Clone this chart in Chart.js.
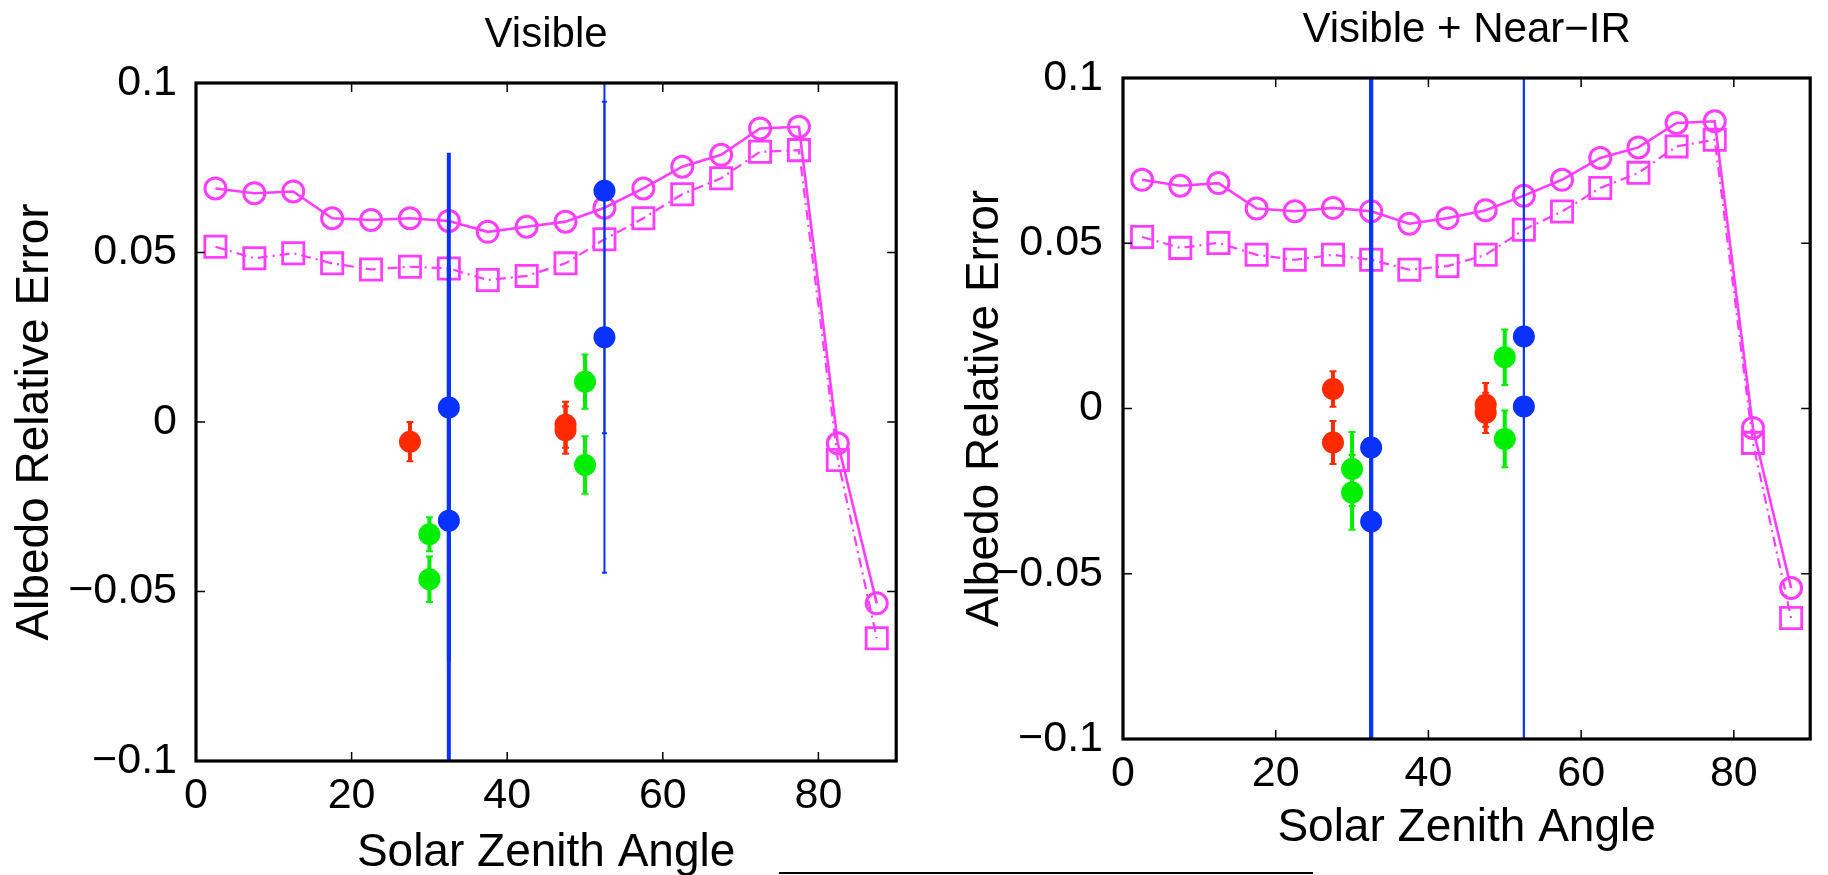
<!DOCTYPE html>
<html><head><meta charset="utf-8">
<script src="https://cdn.jsdelivr.net/npm/chart.js@4.4.0/dist/chart.umd.min.js"></script>
<style>
html,body{margin:0;padding:0;background:#fff;}
#wrap{position:relative;width:1828px;height:875px;overflow:hidden;background:#fff;}
canvas{position:absolute;top:0;}
#cL{left:0;} #cR{left:914px;}
#rule{position:absolute;left:779px;top:872px;width:534px;height:2px;background:#000;}
</style></head><body>
<div id="wrap"><canvas id="cL" width="914" height="875"></canvas><canvas id="cR" width="914" height="875"></canvas><div id="rule"></div></div>
<script>
// ---- data ----
const sza = [2.5,7.5,12.5,17.5,22.5,27.5,32.5,37.5,42.5,47.5,52.5,57.5,62.5,67.5,72.5,77.5,82.5,87.5];
const visCircle = [0.0689,0.0675,0.0680,0.0601,0.0596,0.0601,0.0593,0.0561,0.0576,0.0591,0.0632,0.0689,0.0753,0.0788,0.0866,0.0871,-0.0063,-0.0535];
const visSquare = [0.0517,0.0483,0.0498,0.0468,0.0450,0.0458,0.0453,0.0419,0.0431,0.0468,0.0539,0.0601,0.0672,0.0719,0.0797,0.0802,-0.0112,-0.0638];
const nirCircle = [0.0692,0.0674,0.0682,0.0605,0.0597,0.0607,0.0597,0.0559,0.0576,0.0600,0.0644,0.0692,0.0758,0.0790,0.0864,0.0869,-0.0059,-0.0543];
const nirSquare = [0.0519,0.0486,0.0501,0.0465,0.0450,0.0465,0.0450,0.0420,0.0431,0.0465,0.0541,0.0596,0.0667,0.0713,0.0793,0.0813,-0.0104,-0.0634];

const visRedX = [27.5,47.5,47.5];
const visRedY = [-0.0058,-0.0008,-0.0024];
const visRedErr = [0.0058,0.0068,0.0070];
const visGreenX = [30,30,50,50];
const visGreenY = [-0.0331,-0.0464,0.0119,-0.0127];
const visGreenErr = [0.0050,0.0067,0.0080,0.0085];
const visBlueX = [32.5,32.5,52.5,52.5];
const visBlueY = [0.0043,-0.0291,0.0682,0.0250];
const visBlueErr = [0.0751,0.0750,0.0715,0.0695];

const nirRedX = [27.5,27.5,47.5,47.5];
const nirRedY = [0.0059,-0.0103,0.0011,-0.0013];
const nirRedErr = [0.0054,0.0065,0.0066,0.0061];
const nirGreenX = [30,30,50,50];
const nirGreenY = [-0.0183,-0.0254,0.0155,-0.0092];
const nirGreenErr = [0.0112,0.0113,0.0084,0.0086];
const nirBlueX = [32.5,32.5,52.5,52.5];
const nirBlueY = [-0.0118,-0.0342,0.0218,0.0006];
const nirBlueErr = [0.15,0.15,0.15,0.15];

const xTicks = [0,20,40,60,80];
const yTicks = [-0.1,-0.05,0,0.05,0.1];
const titles = ['Visible','Visible + Near\u2212IR'];
const xTitle = 'Solar Zenith Angle';
const yTitle = 'Albedo Relative Error';

// ---- styling ----
const MAG = '#ff3cff', RED = '#ff2a00', GRN = '#00ee00', BLU = '#0a32ff';
const FONT = "'Liberation Sans', Arial, Helvetica, sans-serif";

const pts = (xs, ys) => xs.map((v, i) => ({x: v, y: ys[i]}));

const framePlugin = {
  id: 'frame',
  afterDatasetsDraw(chart) {
    const {ctx, chartArea: a} = chart;
    const x = chart.scales.x, y = chart.scales.y;
    ctx.save();
    ctx.beginPath(); ctx.rect(a.left, a.top, a.right - a.left, a.bottom - a.top); ctx.clip();
    chart.data.datasets.forEach(ds => {
      if (!ds.errors) return;
      ds.data.forEach((p, j) => {
        const px = x.getPixelForValue(p.x);
        const lo = y.getPixelForValue(p.y - ds.errors[j]);
        const hi = y.getPixelForValue(p.y + ds.errors[j]);
        const w = ds.errWidth[j];
        ctx.strokeStyle = ds.backgroundColor;
        ctx.lineWidth = w;
        ctx.beginPath(); ctx.moveTo(px, lo); ctx.lineTo(px, hi); ctx.stroke();
        if (w < 4 || ds.capAll) {
          const cw = w / 2 + 1.5;
          ctx.lineWidth = 2;
          ctx.beginPath();
          ctx.moveTo(px - cw, lo); ctx.lineTo(px + cw, lo);
          ctx.moveTo(px - cw, hi); ctx.lineTo(px + cw, hi);
          ctx.stroke();
        }
      });
    });
    ctx.restore();
    ctx.save();
    ctx.strokeStyle = '#000';
    ctx.lineWidth = 1.5;
    ctx.beginPath();
    x.ticks.forEach(t => {
      if (t.value <= x.min || t.value >= x.max) return;
      const px = x.getPixelForValue(t.value);
      ctx.moveTo(px, a.bottom); ctx.lineTo(px, a.bottom - 9);
      ctx.moveTo(px, a.top); ctx.lineTo(px, a.top + 9);
    });
    y.ticks.forEach(t => {
      if (t.value <= y.min || t.value >= y.max) return;
      const py = y.getPixelForValue(t.value);
      ctx.moveTo(a.left, py); ctx.lineTo(a.left + 9, py);
      ctx.moveTo(a.right, py); ctx.lineTo(a.right - 9, py);
    });
    ctx.stroke();
    ctx.lineWidth = 3.2;
    ctx.strokeRect(a.left, a.top, a.right - a.left, a.bottom - a.top);
    ctx.restore();
  }
};

function scatterSet(xs, ys, errs, color, widths, capAll) {
  return {
    data: pts(xs, ys), errors: errs, errWidth: widths, capAll: capAll,
    backgroundColor: color, borderColor: color, borderWidth: 0,
    pointRadius: 11, pointHoverRadius: 11, showLine: false
  };
}

function makeChart(id, p) {
  const datasets = [
    scatterSet(p.blueX, p.blueY, p.blueErr, BLU, [4, 4, 2, 2], false),
    scatterSet(p.greenX, p.greenY, p.greenErr, GRN, [4, 4, 4, 4], true),
    scatterSet(p.redX, p.redY, p.redErr, RED, [4, 4, 4, 4], true),
    {
      data: pts(sza, p.circle), showLine: true, borderColor: MAG, borderWidth: 2.6,
      pointStyle: 'circle', pointRadius: 10.5, pointBorderWidth: 3,
      pointBorderColor: MAG, pointBackgroundColor: 'rgba(0,0,0,0)', backgroundColor: 'rgba(0,0,0,0)'
    },
    {
      data: pts(sza, p.square), showLine: true, borderColor: MAG, borderWidth: 2.2,
      borderDash: [10, 5, 2, 5],
      pointStyle: 'rect', pointRadius: 15, pointBorderWidth: 2.8,
      pointBorderColor: MAG, pointBackgroundColor: 'rgba(0,0,0,0)', backgroundColor: 'rgba(0,0,0,0)'
    }
  ];
  return new Chart(document.getElementById(id), {
    type: 'scatter',
    data: {datasets},
    plugins: [framePlugin],
    options: {
      responsive: false, animation: false, devicePixelRatio: 1,
      layout: {padding: {left: 0, top: 0, right: p.padRight, bottom: 0}},
      plugins: {
        legend: {display: false}, tooltip: {enabled: false},
        title: {display: true, fullSize: false, text: p.title, color: '#000',
          font: {family: FONT, size: 42, weight: 'normal', lineHeight: 1.2},
          padding: {top: p.titleTop, bottom: p.titleBottom}}
      },
      scales: {
        x: {
          type: 'linear', min: 0, max: 90,
          afterBuildTicks: s => { s.ticks = xTicks.map(v => ({value: v})); },
          afterFit: s => { s.height = p.xHeight; },
          grid: {display: false, drawTicks: false}, border: {display: false},
          ticks: {color: '#000', padding: p.xTickPad, maxRotation: 0, autoSkip: false,
            font: {family: FONT, size: 43, lineHeight: 1.2},
            callback: v => String(v)},
          title: {display: true, text: xTitle, color: '#000',
            font: {family: FONT, size: 46, lineHeight: 1.2},
            padding: {top: 0, bottom: p.xTitlePad}}
        },
        y: {
          type: 'linear', min: -0.1, max: 0.1,
          afterBuildTicks: s => { s.ticks = yTicks.map(v => ({value: v})); },
          afterFit: s => { s.width = p.yWidth; },
          grid: {display: false, drawTicks: false}, border: {display: false},
          ticks: {color: '#000', padding: p.yTickPad, autoSkip: false,
            font: {family: FONT, size: 43, lineHeight: 1.2},
            callback: v => String(Math.round(v * 100) / 100).replace('-', '\u2212')},
          title: {display: true, text: yTitle, color: '#000',
            font: {family: FONT, size: 46, lineHeight: 1.2},
            padding: {top: p.yTitlePad, bottom: 0}}
        }
      }
    }
  });
}

makeChart('cL', {
  title: titles[0], circle: visCircle, square: visSquare,
  redX: visRedX, redY: visRedY, redErr: visRedErr,
  greenX: visGreenX, greenY: visGreenY, greenErr: visGreenErr,
  blueX: visBlueX, blueY: visBlueY, blueErr: visBlueErr,
  padRight: 2, titleTop: 10.5, titleBottom: 22.1, xHeight: 114, yWidth: 196,
  xTickPad: 9, yTickPad: 19, xTitlePad: -5.6, yTitlePad: 7.4
});
makeChart('cR', {
  title: titles[1], circle: nirCircle, square: nirSquare,
  redX: nirRedX, redY: nirRedY, redErr: nirRedErr,
  greenX: nirGreenX, greenY: nirGreenY, greenErr: nirGreenErr,
  blueX: nirBlueX, blueY: nirBlueY, blueErr: nirBlueErr,
  padRight: 7, titleTop: 4.8, titleBottom: 22.8, xHeight: 136, yWidth: 209,
  xTickPad: 9, yTickPad: 20, xTitlePad: 19.4, yTitlePad: 43.4
});
</script>
</body></html>
